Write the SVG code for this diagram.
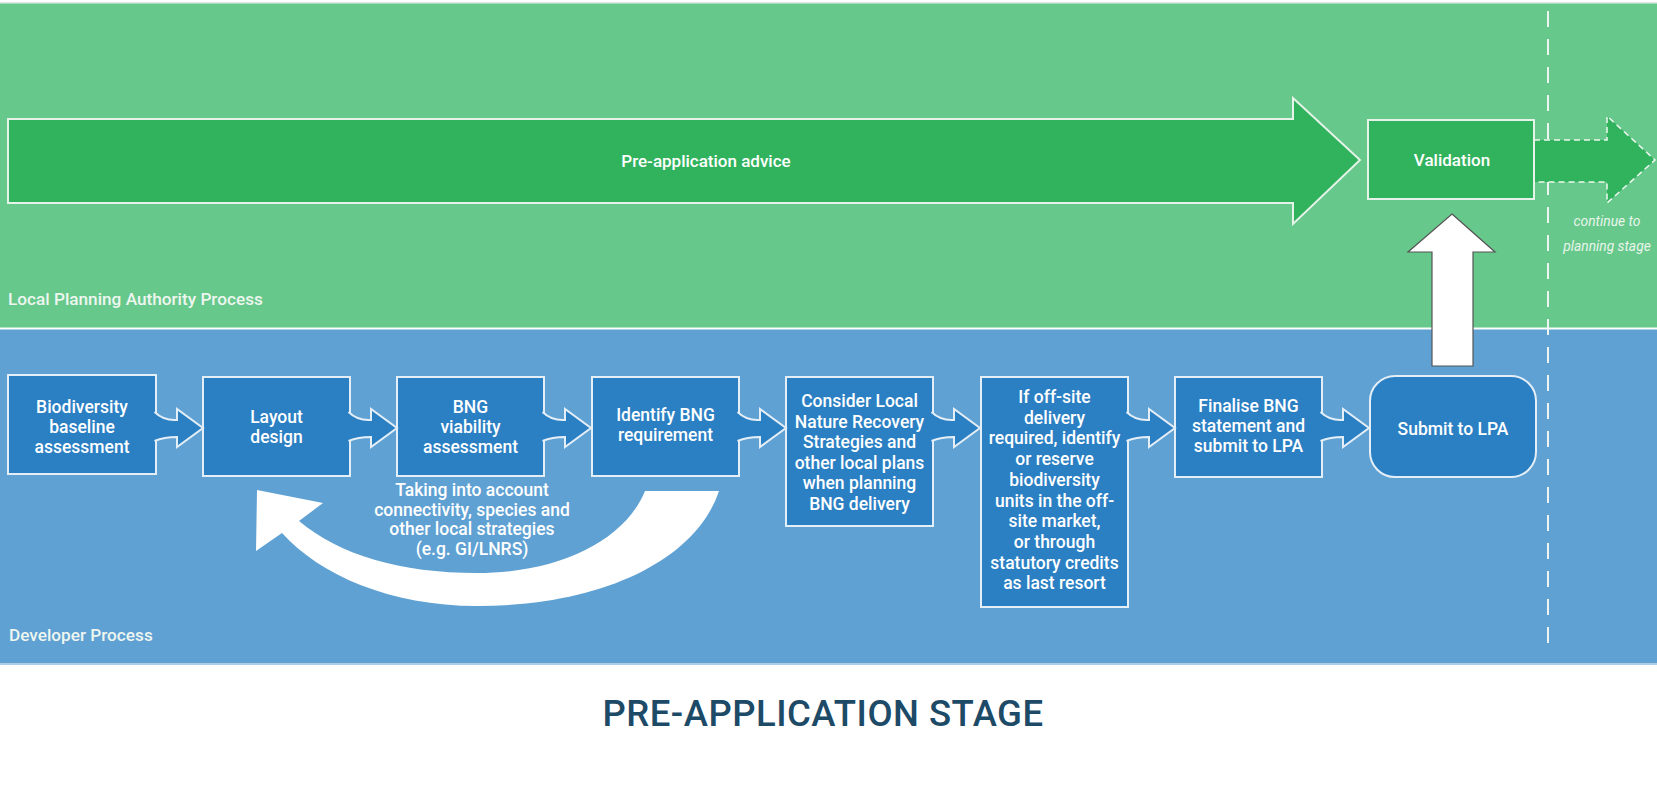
<svg xmlns="http://www.w3.org/2000/svg" xmlns:xlink="http://www.w3.org/1999/xlink" width="1657" height="794" viewBox="0 0 1657 794">
<style>
text{font-family:Roboto,"Liberation Sans",sans-serif;}
.box{fill:#2b80c4;stroke:#e4eef7;stroke-width:2;}
.bt{fill:#ffffff;font-size:17.5px;font-weight:500;text-anchor:middle;}
.lane{fill:#eef6f0;font-size:17.2px;font-weight:500;}
.flow{fill:#2b80c4;stroke:#e4eef7;stroke-width:2;stroke-linejoin:miter;}
.gt{fill:#ffffff;font-size:17px;font-weight:500;text-anchor:middle;}
.note{fill:#e9f5ec;font-size:13.8px;font-style:italic;text-anchor:middle;}
</style>
<defs>
<path id="barrow" d="M-1.5,412 Q8,421 21,420 L21,409 L47,428 L21,447 L21,437 Q8,437 -1.5,441"/>
</defs>
<rect x="0" y="0" width="1657" height="794" fill="#ffffff"/>
<!-- lanes -->
<g id="lane-lpa">
<rect x="0" y="2" width="1657" height="1.5" fill="#dfe6e1"/>
<rect x="0" y="3.5" width="1657" height="324" fill="#66c88a"/>
<text class="lane" x="8" y="305">Local Planning Authority Process</text>
</g>
<g id="lane-dev">
<rect x="0" y="329.5" width="1657" height="334" fill="#5fa1d3"/>
<rect x="0" y="663.5" width="1657" height="1.5" fill="#a9cbe6"/>
<text class="lane" x="9" y="641">Developer Process</text>
</g>
<line x1="1548" y1="11" x2="1548" y2="655" stroke="#eef5f0" stroke-width="2" stroke-dasharray="16 12"/>
<!-- LPA nodes -->
<g id="pre-app">
<path d="M8,119 L1293,119 L1293,98 L1360,160 L1293,224 L1293,203 L8,203 Z" fill="#31b35d" stroke="#e6f3e9" stroke-width="2"/>
<text class="gt" x="706" y="167">Pre-application advice</text>
</g>
<g id="validation">
<path d="M1534,140 L1607,140 L1607,116 L1655,160 L1607,203 L1607,182 L1534,182" fill="#31b35d" stroke="#eef7f0" stroke-width="1.5" stroke-dasharray="6 4"/>
<rect x="1368" y="120" width="166" height="79" fill="#31b35d" stroke="#e6f3e9" stroke-width="2"/>
<text class="gt" x="1452" y="166">Validation</text>
</g>
<g id="continue">
<text class="note" x="1607" y="226">continue to</text>
<text class="note" x="1607" y="251">planning stage</text>
</g>
<!-- developer nodes -->
<g id="n1">
<rect class="box" x="8" y="375" width="148" height="99"/>
<text class="bt"><tspan x="82" y="413">Biodiversity</tspan><tspan x="82" y="433">baseline</tspan><tspan x="82" y="453">assessment</tspan></text>
</g>
<g id="n2">
<rect class="box" x="203" y="377" width="147" height="99"/>
<text class="bt"><tspan x="276.5" y="423">Layout</tspan><tspan x="276.5" y="443">design</tspan></text>
</g>
<g id="n3">
<rect class="box" x="397" y="377" width="147" height="99"/>
<text class="bt"><tspan x="470.5" y="413">BNG</tspan><tspan x="470.5" y="433">viability</tspan><tspan x="470.5" y="453">assessment</tspan></text>
</g>
<g id="n4">
<rect class="box" x="592" y="377" width="147" height="99"/>
<text class="bt"><tspan x="665.5" y="421">Identify BNG</tspan><tspan x="665.5" y="441">requirement</tspan></text>
</g>
<g id="n5">
<rect class="box" x="786" y="377" width="147" height="149"/>
<text class="bt"><tspan x="859.5" y="407">Consider Local</tspan><tspan x="859.5" y="427.6">Nature Recovery</tspan><tspan x="859.5" y="448.2">Strategies and</tspan><tspan x="859.5" y="468.8">other local plans</tspan><tspan x="859.5" y="489.4">when planning</tspan><tspan x="859.5" y="510">BNG delivery</tspan></text>
</g>
<g id="n6">
<rect class="box" x="981" y="377" width="147" height="230"/>
<text class="bt"><tspan x="1054.5" y="403">If off-site</tspan><tspan x="1054.5" y="423.7">delivery</tspan><tspan x="1054.5" y="444.4">required, identify</tspan><tspan x="1054.5" y="465.1">or reserve</tspan><tspan x="1054.5" y="485.8">biodiversity</tspan><tspan x="1054.5" y="506.5">units in the off-</tspan><tspan x="1054.5" y="527.2">site market,</tspan><tspan x="1054.5" y="547.9">or through</tspan><tspan x="1054.5" y="568.6">statutory credits</tspan><tspan x="1054.5" y="589.3">as last resort</tspan></text>
</g>
<g id="n7">
<rect class="box" x="1175" y="377" width="147" height="100"/>
<text class="bt"><tspan x="1248.5" y="412">Finalise BNG</tspan><tspan x="1248.5" y="432">statement and</tspan><tspan x="1248.5" y="452">submit to LPA</tspan></text>
</g>
<g id="n8">
<rect class="box" x="1370" y="376" width="166" height="101" rx="25" ry="25"/>
<text class="bt" x="1453" y="435">Submit to LPA</text>
</g>
<g id="note-taking">
<text class="bt"><tspan x="472" y="496">Taking into account</tspan><tspan x="472" y="515.5">connectivity, species and</tspan><tspan x="472" y="535">other local strategies</tspan><tspan x="472" y="554.5">(e.g. GI/LNRS)</tspan></text>
</g>
<!-- connectors -->
<g id="connectors">
<use xlink:href="#barrow" class="flow" transform="translate(156,0)"/>
<use xlink:href="#barrow" class="flow" transform="translate(350,0)"/>
<use xlink:href="#barrow" class="flow" transform="translate(544,0)"/>
<use xlink:href="#barrow" class="flow" transform="translate(739,0)"/>
<use xlink:href="#barrow" class="flow" transform="translate(933,0)"/>
<use xlink:href="#barrow" class="flow" transform="translate(1128,0)"/>
<use xlink:href="#barrow" class="flow" transform="translate(1322,0)"/>
<path id="loop" d="M719,491 C696,560 602,606 477,606 C390,606 320,575 282,533 L256,551 L257,490 L323,503 L299,521 C340,555 400,573 477,573 C560,573 625,540 645,491 Z" fill="#ffffff"/>
<path id="to-validation" d="M1452,214 L1495,252 L1473,252 L1473,366 L1432,366 L1432,252 L1408,252 Z" fill="#ffffff" stroke="#555555" stroke-width="1.2"/>
</g>
<text x="823" y="726" fill="#1d4a66" font-size="36.5" font-weight="500" text-anchor="middle" letter-spacing="0.5">PRE-APPLICATION STAGE</text>
</svg>
